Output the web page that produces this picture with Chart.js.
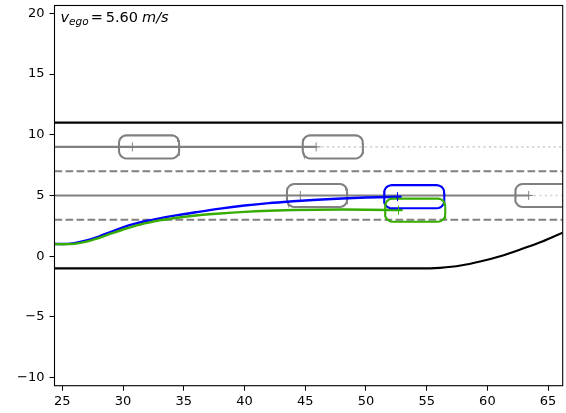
<!DOCTYPE html>
<html>
<head>
<meta charset="utf-8">
<script src="https://cdn.jsdelivr.net/npm/chart.js@4.4.1/dist/chart.umd.min.js"></script>
<style>
  html, body { margin: 0; padding: 0; background: #fff; }
  #wrap { width: 566px; height: 413px; }
</style>
</head>
<body>
<div id="wrap"><canvas id="plot" width="566" height="413"></canvas></div>
<script>
"use strict";

/* ── data ────────────────────────────────────────────────────────────────── */

var xRange = [24.36, 66.2];
var yRange = [-10.66, 20.64];
var xTicks = [25, 30, 35, 40, 45, 50, 55, 60, 65];
var yTicks = [-10, -5, 0, 5, 10, 15, 20];

var egoSpeed = 5.60;

// road edges
var roadTopY     = 11;
var roadBottomX  = [24.36, 55.3, 56.1, 57.8, 59.4, 61.05, 62.7, 64.35, 66.0, 66.2];
var roadBottomY  = [-1, -1, -0.96, -0.77, -0.44, 0.0, 0.55, 1.15, 1.85, 1.93];

// lane dividers (dashed)
var laneY = [7, 3];

// other vehicles: tracks, positions
var trackY     = [9, 5];
var trackEndX  = [45.9, 63.4];
var carX       = [30.77, 45.9, 44.6, 63.4];
var carY       = [9, 9, 5, 5];

// ego paths (blue = plan, green = actual)
var blueX = [24.36, 25, 26, 27, 28, 29, 30, 31, 32, 33, 34, 36, 38, 40, 42, 44, 46, 48, 50, 52.9];
var blueY = [1.0, 1.0, 1.08, 1.3, 1.62, 2.0, 2.38, 2.68, 2.92, 3.12, 3.3, 3.62, 3.92, 4.17, 4.37, 4.52, 4.65, 4.75, 4.83, 4.9];
var greenX = [24.36, 25, 26, 27, 28, 29, 30, 31, 32, 33, 34, 36, 38, 40, 42, 44, 46, 48, 50, 53.0];
var greenY = [1.0, 0.98, 1.02, 1.2, 1.5, 1.85, 2.2, 2.5, 2.74, 2.95, 3.1, 3.35, 3.52, 3.65, 3.74, 3.8, 3.83, 3.84, 3.83, 3.8];
var blueCar  = [52.6, 4.9];
var greenCar = [52.68, 3.79];

/* ── styles / geometry constants ─────────────────────────────────────────── */

var GRAY  = "#808080";
var LIGHT = "#cfcfcf";
var BLUE  = "#0000ff";
var GREEN = "#36ad00";
var FONT  = "'DejaVu Sans', sans-serif";

var CAR_BACK = 1.1, CAR_FRONT = 3.85, CAR_HALF = 0.95, CAR_R = 0.62;

function pts(xs, ys) {
    return xs.map(function(x, i) { return { x: x, y: ys[i] }; });
}

// Rounded-rectangle outline of a car around its reference point.
function carOutline(cx, cy) {
    var x0 = cx - CAR_BACK, x1 = cx + CAR_FRONT;
    var y0 = cy - CAR_HALF, y1 = cy + CAR_HALF;
    var corners = [
        [x1 - CAR_R, y1 - CAR_R, 0],
        [x0 + CAR_R, y1 - CAR_R, 90],
        [x0 + CAR_R, y0 + CAR_R, 180],
        [x1 - CAR_R, y0 + CAR_R, 270]
    ];
    var out = [];
    corners.forEach(function(c) {
        for (var k = 0; k <= 6; k++) {
            var a = (c[2] + k * 15) * Math.PI / 180;
            out.push({ x: c[0] + CAR_R * Math.cos(a), y: c[1] + CAR_R * Math.sin(a) });
        }
    });
    out.push(out[0]);
    return out;
}

/* ── datasets, listed bottom to top ──────────────────────────────────────── */

var layers = [];

function line(data, color, extra) {
    var ds = {
        data: data,
        borderColor: color,
        borderWidth: 2.1,
        pointRadius: 0,
        showLine: true,
        fill: false,
        tension: 0
    };
    Object.assign(ds, extra || {});
    layers.push(ds);
}

line(pts(xRange, [roadTopY, roadTopY]), "#000");
line(pts(roadBottomX, roadBottomY), "#000", { cubicInterpolationMode: "monotone" });

laneY.forEach(function(y) {
    line(pts(xRange, [y, y]), GRAY, { borderDash: [7.7, 3.3] });
});

trackY.forEach(function(y, i) {
    line(pts([xRange[0], trackEndX[i]], [y, y]), GRAY);
    line(pts([trackEndX[i], xRange[1]], [y, y]), LIGHT, { borderWidth: 1.6, borderDash: [2, 3.4] });
});

carX.forEach(function(x, i) {
    line(carOutline(x, carY[i]), GRAY);
});
layers.push({
    data: pts(carX, carY), showLine: false, pointStyle: "cross",
    pointRadius: 4.5, borderColor: GRAY, borderWidth: 1
});

line(pts(blueX, blueY), BLUE, { cubicInterpolationMode: "monotone", borderWidth: 2.4 });
line(pts(greenX, greenY), GREEN, { cubicInterpolationMode: "monotone", borderWidth: 2.4 });
line(carOutline(blueCar[0], blueCar[1]), BLUE);
line(carOutline(greenCar[0], greenCar[1]), GREEN);
layers.push({
    data: [{ x: blueCar[0], y: blueCar[1] }], showLine: false, pointStyle: "cross",
    pointRadius: 4.5, borderColor: BLUE, borderWidth: 1
});
layers.push({
    data: [{ x: greenCar[0], y: greenCar[1] }], showLine: false, pointStyle: "cross",
    pointRadius: 4.5, borderColor: GREEN, borderWidth: 1
});

// Chart.js draws the lowest "order" last, so later layers get lower values.
layers.forEach(function(ds, i) { ds.order = -i; });

/* ── plugins: frame + speed label ────────────────────────────────────────── */

var framePlugin = {
    id: "frame",
    afterDatasetsDraw: function(chart) {
        var a = chart.chartArea, ctx = chart.ctx;
        ctx.save();
        ctx.strokeStyle = "#000";
        ctx.lineWidth = 1.1;
        ctx.strokeRect(a.left, a.top, a.right - a.left, a.bottom - a.top);
        ctx.restore();
    }
};

var speedLabelPlugin = {
    id: "speedLabel",
    afterDraw: function(chart) {
        var ctx = chart.ctx, a = chart.chartArea;
        var x = a.left + 6, base = a.top + 16;
        ctx.save();
        ctx.fillStyle = "#000";
        ctx.textBaseline = "alphabetic";
        ctx.font = "italic 14.5px " + FONT;
        ctx.fillText("v", x, base);
        x += ctx.measureText("v").width;
        ctx.font = "italic 10.5px " + FONT;
        ctx.fillText("ego", x, base + 3.5);
        x += ctx.measureText("ego").width + 2;
        ctx.font = "14.5px " + FONT;
        ctx.fillText("=", x, base);
        x += ctx.measureText("=").width + 3;
        var s = egoSpeed.toFixed(2);
        ctx.fillText(s, x, base);
        x += ctx.measureText(s).width + 4;
        ctx.font = "italic 14.5px " + FONT;
        ctx.fillText("m/s", x, base);
        ctx.restore();
    }
};

/* ── chart ───────────────────────────────────────────────────────────────── */

function minus(v) { return String(v).replace("-", "\u2212"); }

var tickFont = { family: FONT, size: 13 };

new Chart(document.getElementById("plot"), {
    type: "scatter",
    data: { datasets: layers },
    options: {
        responsive: false,
        animation: false,
        devicePixelRatio: 1,
        layout: { autoPadding: false, padding: { top: 5.5, right: 3.3, left: 0, bottom: 0 } },
        plugins: { legend: { display: false }, tooltip: { enabled: false } },
        scales: {
            x: {
                type: "linear",
                min: xRange[0], max: xRange[1],
                afterBuildTicks: function(s) { s.ticks = xTicks.map(function(v) { return { value: v }; }); },
                afterFit: function(s) {
                    s.height = 27.3;
                    s.paddingLeft = 0; s.paddingRight = 0;
                },
                grid: { drawOnChartArea: false, drawTicks: true, tickLength: 5, color: "#000", lineWidth: 1 },
                border: { display: false },
                ticks: { font: tickFont, color: "#000", padding: 3, maxRotation: 0, callback: minus }
            },
            y: {
                type: "linear",
                min: yRange[0], max: yRange[1],
                afterBuildTicks: function(s) { s.ticks = yTicks.map(function(v) { return { value: v }; }); },
                afterFit: function(s) {
                    s.width = 54.5;
                    s.paddingTop = 0; s.paddingBottom = 0;
                },
                grid: { drawOnChartArea: false, drawTicks: true, tickLength: 5, color: "#000", lineWidth: 1 },
                border: { display: false },
                ticks: { font: tickFont, color: "#000", padding: 5, callback: minus }
            }
        }
    },
    plugins: [framePlugin, speedLabelPlugin]
});
</script>
</body>
</html>
